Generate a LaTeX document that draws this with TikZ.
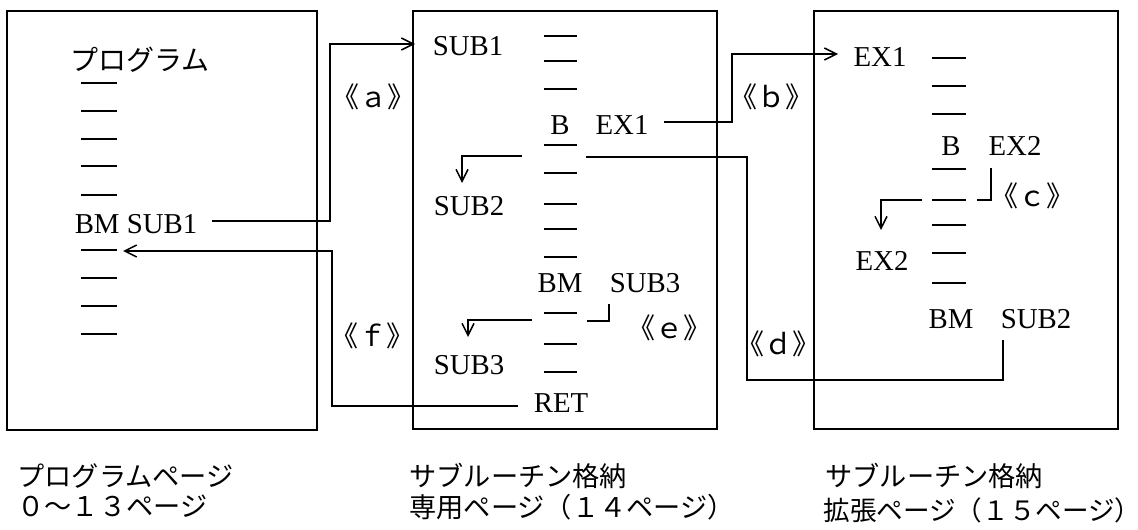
\documentclass[tikz,border=0pt]{standalone}
\usepackage{fontspec}
\setmainfont{Liberation Serif}
\newfontfamily\jp{Noto Sans CJK JP}
\usetikzlibrary{arrows.meta}
\begin{document}
\begin{tikzpicture}[x=0.5pt,y=-0.5pt,
  page/.style={draw, line width=0.95pt},
  wire/.style={draw, line width=0.75pt},
  arr/.style={wire, -{Straight Barb[length=6pt,width=6pt]}},
  rung/.style={line width=0.9pt},
  lbl/.style={inner sep=0pt, anchor=base, font=\fontsize{14.4}{16}\selectfont},
  jlbl/.style={inner sep=0pt, anchor=base, font=\jp\fontsize{14}{16}\selectfont},
  pgcap/.style={inner sep=0pt, anchor=base west, font=\jp\fontsize{13.6}{16}\selectfont}]
\useasboundingbox (0,0) rectangle (1138,529);

% the three memory pages
\draw[page] (7,11) rectangle (317,430);
\draw[page] (413,11) rectangle (717,429);
\draw[page] (814,11) rectangle (1118,429);

% instruction rungs
\foreach \y in {83,111,139,166,195,250,278,306,334}
  \draw[rung] (81,\y) -- (117,\y);
\foreach \y in {36,61,89,145,173,204,229,257,313,344,372}
  \draw[rung] (544,\y) -- (577,\y);
\foreach \y in {58,86,114,169,200,225,253,283}
  \draw[rung] (932,\y) -- (966,\y);

% program page
\node[jlbl] (prog) at (140,71) {プログラム};
\node[lbl] (bm0) at (136,234) {BM SUB1};

% subroutine page
\node[lbl] (sub1) at (468,56) {SUB1};
\node[lbl] (b1) at (560,135) {B};
\node[lbl] (ex1a) at (622,135) {EX1};
\node[lbl] (sub2) at (469,215) {SUB2};
\node[lbl] (bm1) at (560,292) {BM};
\node[lbl] (sub3a) at (645,292) {SUB3};
\node[lbl] (sub3) at (469,374) {SUB3};
\node[lbl] (ret) at (561,412) {RET};

% extension page
\node[lbl] (ex1) at (880,67) {EX1};
\node[lbl] (b2) at (951,156) {B};
\node[lbl] (ex2a) at (1015,156) {EX2};
\node[lbl] (ex2) at (882,270) {EX2};
\node[lbl] (bm2) at (951,328) {BM};
\node[lbl] (sub2a) at (1036,328) {SUB2};

% flow labels
\node[jlbl] (la) at (373,108) {《ａ》};
\node[jlbl] (lb) at (771,108) {《ｂ》};
\node[jlbl] (lc) at (1032,206) {《ｃ》};
\node[jlbl] (ld) at (778,354) {《ｄ》};
\node[jlbl] (le) at (669,338) {《ｅ》};
\node[jlbl] (lf) at (372,346) {《ｆ》};

% connector end points
\coordinate (a0) at (212,221);  \coordinate (a1) at (415,44);
\coordinate (b0) at (664,122);  \coordinate (b1) at (838,54);
\coordinate (s20) at (522,156); \coordinate (s21) at (462,183);
\coordinate (d0) at (586,157);  \coordinate (d2) at (747,380);
\coordinate (d1) at (1003,340);
\coordinate (e0) at (609,304);  \coordinate (e1) at (587,321);
\coordinate (s30) at (532,320); \coordinate (s31) at (468,337);
\coordinate (f0) at (518,406);  \coordinate (f1) at (123,251);
\coordinate (c0) at (991,168);  \coordinate (c1) at (977,200);
\coordinate (x20) at (922,200); \coordinate (x21) at (881,230);

% connectors
\draw[arr] (a0) -- ++(118,0) |- (a1);
\draw[arr] (b0) -- ++(68,0) |- (b1);
\draw[arr] (s20) -| (s21);
\draw[wire] (d0) -| (d2) -| (d1);
\draw[wire] (e0) |- (e1);
\draw[arr] (s30) -| (s31);
\draw[arr] (f0) -- ++(-186,0) |- (f1);
\draw[wire] (c0) |- (c1);
\draw[arr] (x20) -| (x21);

% captions
\node[pgcap] (cap1a) at (17,486) {プログラムページ};
\node[pgcap] (cap1b) at (17,516) {０～１３ページ};
\node[pgcap] (cap2a) at (409,486) {サブルーチン格納};
\node[pgcap] (cap2b) at (409,517) {専用ページ（１４ページ）};
\node[pgcap] (cap3a) at (825,486) {サブルーチン格納};
\node[pgcap, font=\jp\fontsize{13.3}{16}\selectfont] (cap3b) at (823,520) {拡張ページ（１５ページ）};
\end{tikzpicture}
\end{document}
